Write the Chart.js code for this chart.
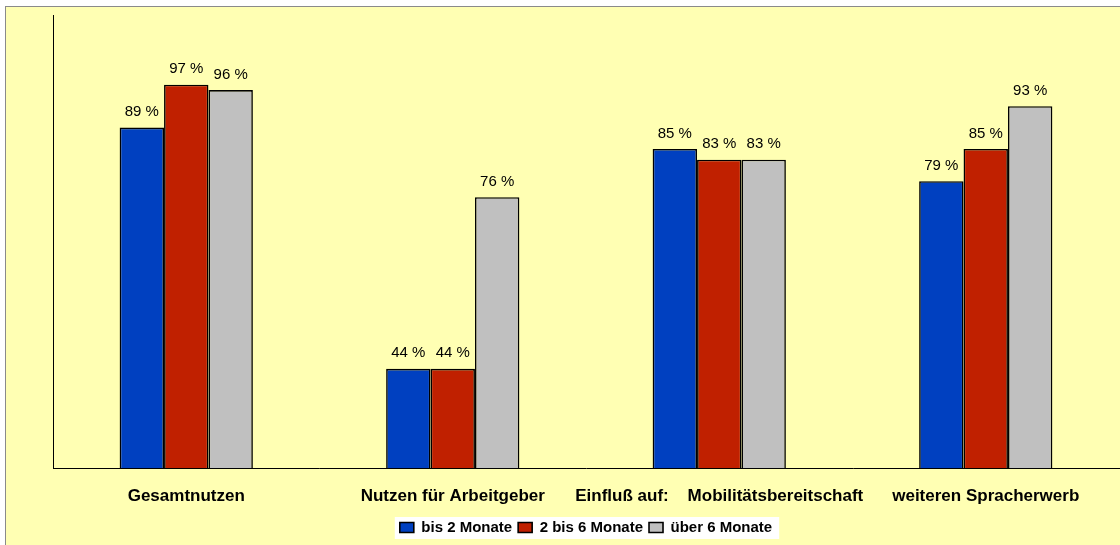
<!DOCTYPE html>
<html>
<head>
<meta charset="utf-8">
<script src="https://cdn.jsdelivr.net/npm/chart.js@4/dist/chart.umd.min.js"></script>
<style>
  html, body { margin: 0; padding: 0; background: #fff; }
  #chart { display: block; }
</style>
</head>
<body>
<canvas id="chart" width="1120" height="545"></canvas>
<script>
const categories = ['Gesamtnutzen', 'Nutzen für Arbeitgeber', 'Einfluß auf:    Mobilitätsbereitschaft', 'weiteren Spracherwerb'];
const seriesNames = ['bis 2 Monate', '2 bis 6 Monate', 'über 6 Monate'];
const bis2Monate = [89, 44, 85, 79];
const bis6Monate = [97, 44, 83, 85];
const ueber6Monate = [96, 76, 83, 93];
const seriesColors = ['#0040C0', '#C02000', '#C0C0C0'];

const FONT = 'Arial, "Liberation Sans", sans-serif';

// background panel + white box behind the legend
const backgroundPlugin = {
    id: 'panel',
    beforeDraw(chart) {
        const ctx = chart.ctx;
        ctx.save();
        ctx.fillStyle = '#ffffff';
        ctx.fillRect(0, 0, chart.width, chart.height);
        ctx.fillStyle = '#FFFFB3';
        ctx.fillRect(5, 6, chart.width - 5, chart.height - 6);
        ctx.strokeStyle = '#8a8a8a';
        ctx.lineWidth = 1;
        ctx.strokeRect(5.5, 6.5, chart.width + 10, chart.height + 10);

        const boxes = chart.legend.legendHitBoxes;
        if (boxes && boxes.length) {
            const left = Math.min(...boxes.map(b => b.left)) - 5;
            const right = Math.max(...boxes.map(b => b.left + b.width)) + 7;
            const top = Math.min(...boxes.map(b => b.top)) - 3;
            const bottom = Math.max(...boxes.map(b => b.top + b.height)) + 4;
            ctx.fillStyle = '#ffffff';
            ctx.fillRect(left, top, right - left, bottom - top);
        }
        ctx.restore();
    }
};

// value labels above bars
const valueLabels = {
    id: 'valueLabels',
    afterDatasetsDraw(chart) {
        const ctx = chart.ctx;
        ctx.save();
        ctx.font = '15px ' + FONT;
        ctx.fillStyle = '#000';
        ctx.textAlign = 'center';
        ctx.textBaseline = 'bottom';
        chart.data.datasets.forEach((ds, i) => {
            chart.getDatasetMeta(i).data.forEach((bar, j) => {
                ctx.fillText(ds.data[j] + ' %', bar.x, bar.y - 8);
            });
        });
        ctx.restore();
    }
};

const seriesData = [bis2Monate, bis6Monate, ueber6Monate];

new Chart(document.getElementById('chart'), {
    type: 'bar',
    data: {
        labels: categories,
        datasets: seriesNames.map((name, i) => ({
            label: name,
            data: seriesData[i],
            backgroundColor: seriesColors[i],
            borderColor: '#000',
            borderWidth: 1.6,
            categoryPercentage: 0.5,
            barPercentage: 1
        }))
    },
    options: {
        responsive: false,
        animation: false,
        devicePixelRatio: 1,
        layout: { padding: { top: 15, left: 53, right: 1, bottom: 0 } },
        plugins: {
            legend: {
                position: 'bottom',
                labels: {
                    color: '#000',
                    font: { family: FONT, size: 15, weight: 'bold' },
                    boxWidth: 14,
                    boxHeight: 10,
                    padding: 6
                }
            },
            tooltip: { enabled: false }
        },
        scales: {
            x: {
                grid: { display: false, drawTicks: false },
                border: { display: true, color: '#000', width: 1 },
                ticks: {
                    color: '#000',
                    font: { family: FONT, size: 17, weight: 'bold' },
                    padding: 18,
                    maxRotation: 0,
                    autoSkip: false
                },
                afterFit(scale) { scale.height = 46; }
            },
            y: {
                min: 25.5,
                max: 110,
                grid: { display: false, drawTicks: false },
                border: { display: true, color: '#000', width: 1 },
                ticks: { display: false },
                afterFit(scale) { scale.width = 0; }
            }
        }
    },
    plugins: [backgroundPlugin, valueLabels]
});
</script>
</body>
</html>
